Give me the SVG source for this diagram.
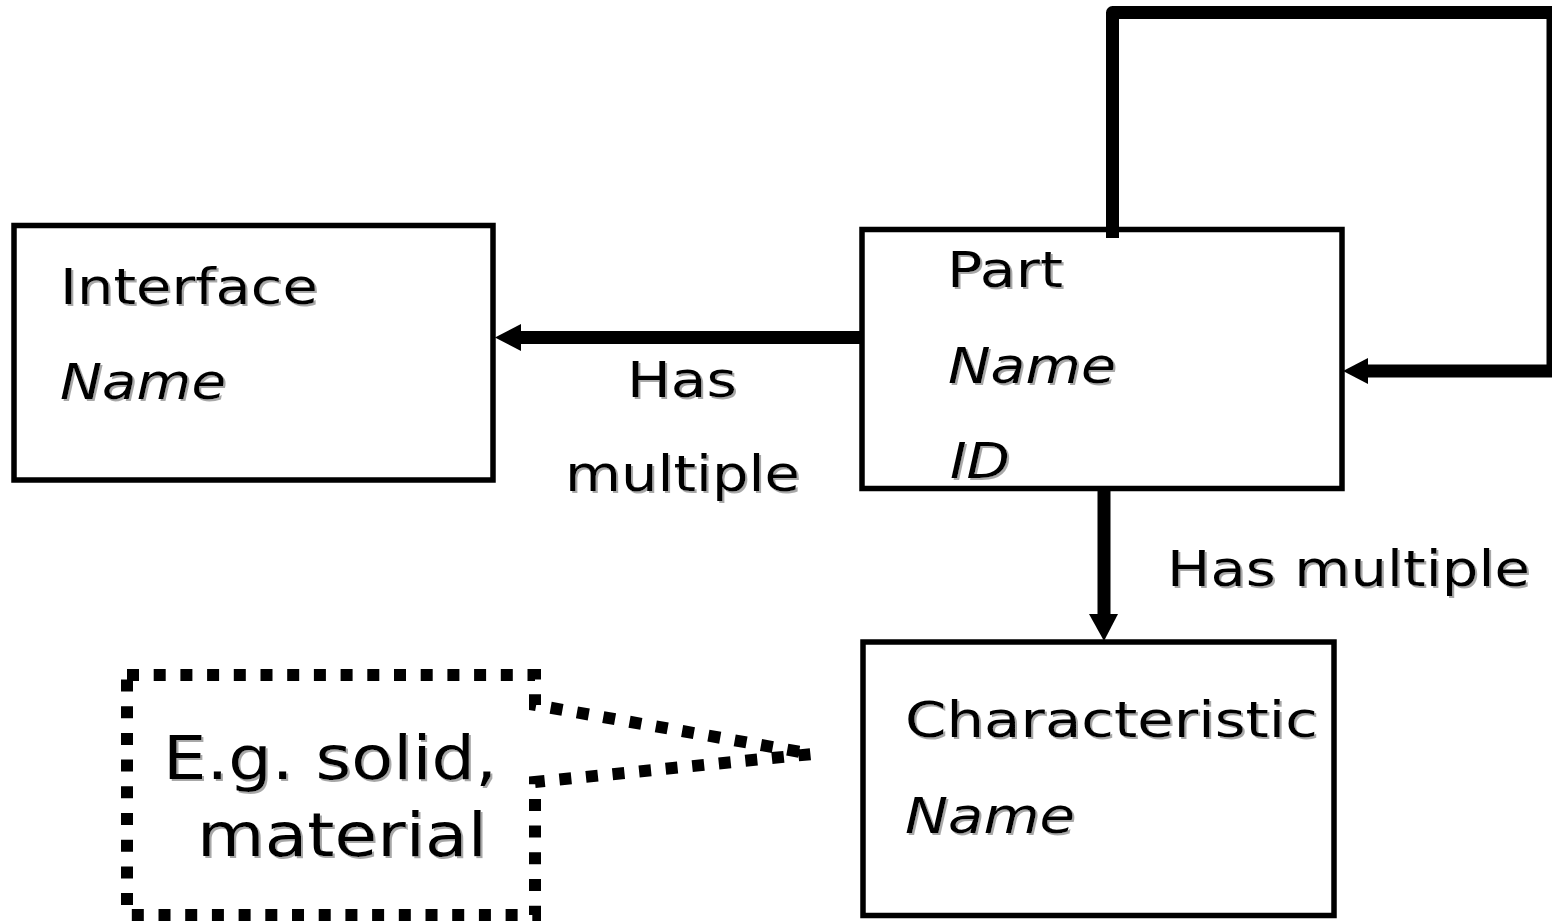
<svg xmlns="http://www.w3.org/2000/svg" width="1552" height="922" viewBox="0 0 1552 922">
<defs>
<filter id="sh" x="-5%" y="-20%" width="115%" height="150%">
<feDropShadow dx="2" dy="2" stdDeviation="0.6" flood-color="#a8a8a8" flood-opacity="1"/>
</filter>
<style>
.box{fill:#fff;stroke:#000;stroke-width:5.5}
.t{font-family:"DejaVu Sans","Liberation Sans",Arial,sans-serif;font-size:49px;fill:#000;filter:url(#sh)}
.i{font-style:italic}
.big{font-size:61px}
.con{fill:none;stroke:#000;stroke-width:13}
.ah{fill:#000}
.dot{fill:none;stroke:#000;stroke-width:12;stroke-dasharray:12 14.7}
</style>
</defs>
<rect width="1552" height="922" fill="#fff"/>
<g id="interface">
<rect class="box" x="14" y="225.5" width="479" height="254.5"/>
<text class="t" x="60" y="304" textLength="258" lengthAdjust="spacingAndGlyphs">Interface</text>
<text class="t i" x="60" y="399" textLength="166" lengthAdjust="spacingAndGlyphs">Name</text>
</g>
<g id="part">
<rect class="box" x="862" y="229.5" width="480" height="259"/>
<text class="t" x="947" y="287" textLength="116" lengthAdjust="spacingAndGlyphs">Part</text>
<text class="t i" x="948" y="383" textLength="168" lengthAdjust="spacingAndGlyphs">Name</text>
<text class="t i" x="950" y="478" textLength="60" lengthAdjust="spacingAndGlyphs">ID</text>
</g>
<g id="characteristic">
<rect class="box" x="863" y="642" width="471" height="273.5"/>
<text class="t" x="905" y="737" textLength="413" lengthAdjust="spacingAndGlyphs">Characteristic</text>
<text class="t i" x="905" y="833" textLength="170" lengthAdjust="spacingAndGlyphs">Name</text>
</g>
<g id="note">
<path class="dot" d="M127,675 H535 V705 L812,754 L535,782 V915 H127 Z"/>
<text class="t big" x="163" y="779" textLength="334" lengthAdjust="spacingAndGlyphs">E.g. solid,</text>
<text class="t big" x="197" y="856" textLength="290" lengthAdjust="spacingAndGlyphs">material</text>
</g>
<g id="connectors">
<path class="con" d="M862,337.5 H519"/>
<polygon class="ah" points="495,337.5 521,324 521,351"/>
<path class="con" d="M1104,489 V617"/>
<polygon class="ah" points="1104,641 1089,614 1118,614"/>
<path class="con" d="M1112.5,238 V12.5 H1553 V371 H1366" stroke-linejoin="round"/>
<polygon class="ah" points="1343,371 1368,358 1368,384"/>
<text class="t" x="627" y="397" textLength="110" lengthAdjust="spacingAndGlyphs">Has</text>
<text class="t" x="565" y="491" textLength="235" lengthAdjust="spacingAndGlyphs">multiple</text>
<text class="t" x="1167" y="586" textLength="363" lengthAdjust="spacingAndGlyphs">Has multiple</text>
</g>
</svg>
